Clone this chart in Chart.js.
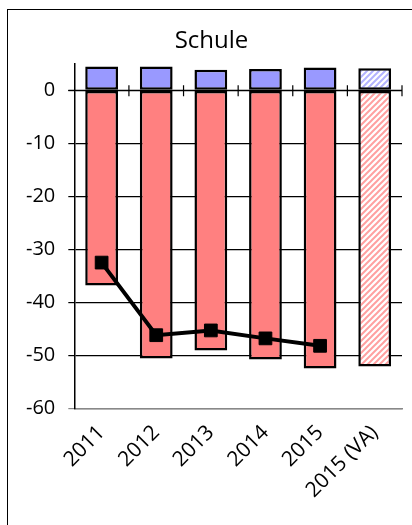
<!DOCTYPE html>
<html lang="de">
<head>
  <meta charset="UTF-8">
  <title>Schule</title>
  <script src="https://cdn.jsdelivr.net/npm/chart.js"></script>
  <style>
    body {
      margin: 0;
      background: #fff;
    }

    #rahmen {
      position: absolute;
      left: 7px;
      top: 9px;
      width: 420px;
      height: 530px;
      border: 1.5px solid #000;
    }

    #wrap {
      position: absolute;
      left: 0;
      top: 0;
      width: 412px;
      height: 525px;
    }
  </style>
</head>
<body>
<div id="rahmen"></div>
<div id="wrap"><canvas id="grafico"></canvas></div>

<script>
  const jahre = ['2011', '2012', '2013', '2014', '2015', '2015 (VA)'];
  const positiv = [4.5, 4.5, 3.9, 4.0, 4.3, 4.15];
  const negativ = [-36.8, -50.6, -49.1, -50.8, -52.5, -52.1];
  const saldo = [-32.5, -46.2, -45.3, -46.8, -48.2, null];

  // schraffur fuer die VA-Saeule
  function muster(farbe) {
    const c = document.createElement('canvas');
    c.width = 6;
    c.height = 6;
    const g = c.getContext('2d');
    g.fillStyle = '#fff';
    g.fillRect(0, 0, 6, 6);
    g.strokeStyle = farbe;
    g.lineWidth = 2;
    g.beginPath();
    g.moveTo(-1, 7); g.lineTo(7, -1);
    g.moveTo(-4, 4); g.lineTo(4, -4);
    g.moveTo(2, 10); g.lineTo(10, 2);
    g.stroke();
    return g.createPattern(c, 'repeat');
  }

  const rot = '#ff8080';
  const blau = '#9999ff';
  const rotMuster = muster('rgba(255,128,128,0.75)');
  const blauMuster = muster('rgba(153,153,255,0.75)');

  // nulllinie mit strichen an den kategoriegrenzen
  const nullLinie = {
    id: 'nullLinie',
    beforeDatasetsDraw(chart) {
      const ctx = chart.ctx;
      const x = chart.scales.x;
      const y0 = chart.scales.y.getPixelForValue(0);
      ctx.save();
      ctx.strokeStyle = '#000';
      ctx.lineWidth = 1.2;
      ctx.beginPath();
      ctx.moveTo(chart.chartArea.left - 6, y0);
      ctx.lineTo(chart.chartArea.right, y0);
      const schritt = x.getPixelForValue(1) - x.getPixelForValue(0);
      for (let i = 0; i < jahre.length; i++) {
        const px = x.getPixelForValue(i) + schritt / 2;
        ctx.moveTo(px, y0 - 5);
        ctx.lineTo(px, y0 + 6);
      }
      ctx.stroke();
      ctx.restore();
    }
  };

  new Chart(document.getElementById('grafico'), {
    type: 'bar',
    data: {
      labels: jahre,
      datasets: [
        {
          type: 'line',
          data: saldo,
          stack: 'linie',
          borderColor: '#000',
          borderWidth: 4,
          backgroundColor: '#000',
          pointStyle: 'rect',
          pointRadius: 9,
          pointBorderWidth: 1,
          tension: 0,
          order: 0
        },
        {
          data: positiv,
          stack: 's',
          backgroundColor: positiv.map((v, i) => i === positiv.length - 1 ? blauMuster : blau),
          borderColor: '#000',
          borderWidth: 2.5,
          borderSkipped: false,
          barPercentage: 0.6,
          categoryPercentage: 1,
          order: 1
        },
        {
          data: negativ,
          stack: 's',
          backgroundColor: negativ.map((v, i) => i === negativ.length - 1 ? rotMuster : rot),
          borderColor: '#000',
          borderWidth: 2.5,
          borderSkipped: false,
          barPercentage: 0.6,
          categoryPercentage: 1,
          order: 1
        }
      ]
    },
    options: {
      responsive: true,
      maintainAspectRatio: false,
      animation: false,
      layout: { padding: { top: 27, right: 2, left: 13, bottom: 18 } },
      plugins: {
        legend: { display: false },
        tooltip: { enabled: false },
        title: {
          display: true,
          text: 'Schule',
          color: '#000',
          font: { family: 'Open Sans', size: 24, weight: 'normal' },
          padding: { top: 0, bottom: 8 }
        }
      },
      scales: {
        x: {
          stacked: true,
          grid: { display: false },
          border: { display: true, color: '#888', width: 1.5 },
          afterFit(scale) {
            scale.paddingLeft = 0;
          },
          ticks: {
            color: '#000',
            font: { family: 'Open Sans', size: 21 },
            minRotation: 45,
            maxRotation: 45,
            padding: 4
          }
        },
        y: {
          stacked: true,
          min: -60,
          max: 5,
          afterBuildTicks(scale) {
            scale.ticks = scale.ticks.filter(t => t.value % 10 === 0);
          },
          grid: {
            color: ctx => ctx.tick && ctx.tick.value === -60 ? '#888' : '#000',
            lineWidth: 1.2,
            tickLength: 6
          },
          border: { display: true, color: '#000', width: 1.5 },
          ticks: {
            stepSize: 10,
            color: '#000',
            font: { family: 'Open Sans', size: 20 },
            padding: 13
          }
        }
      }
    },
    plugins: [nullLinie]
  });
</script>
</body>
</html>
